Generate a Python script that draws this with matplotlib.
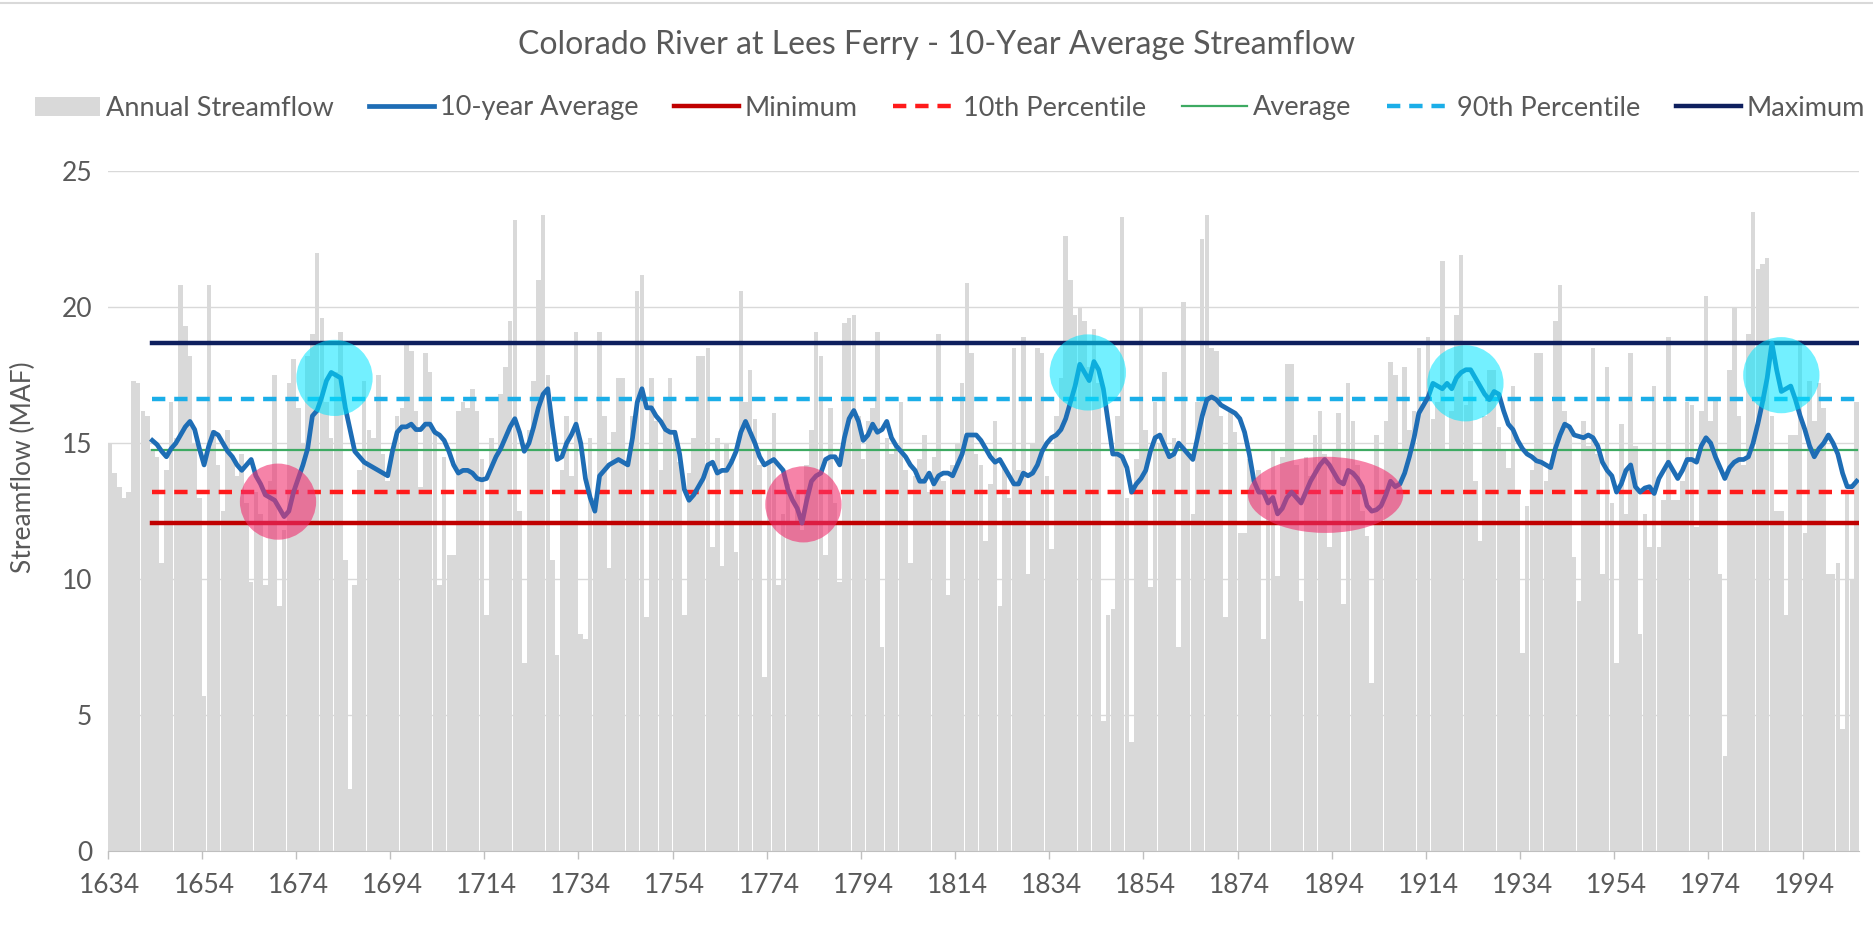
import matplotlib
matplotlib.use("Agg")
import matplotlib.pyplot as plt
from matplotlib.patches import Ellipse, Patch
from matplotlib.lines import Line2D

plt.rcParams['font.family'] = ['Lato', 'DejaVu Sans']

# Annual streamflow (MAF), one value per year starting 1634
first_year = 1634
annual = [
    15.0, 13.9, 13.4, 13.0, 13.2, 17.3, 17.2, 16.2, 16.0, 14.8,   # 1634
    14.5, 10.6, 14.0, 16.5, 15.2, 20.8, 19.3, 18.2, 15.0, 13.0,   # 1644
    5.7, 20.8, 15.5, 14.2, 12.5, 15.5, 14.5, 13.8, 14.6, 12.8,    # 1654
    9.9, 13.2, 12.4, 9.8, 13.6, 17.5, 9.0, 11.8, 17.2, 18.1,      # 1664
    16.3, 15.0, 18.2, 19.0, 22.0, 19.6, 16.5, 15.2, 17.6, 19.1,   # 1674
    10.7, 2.3, 9.8, 14.0, 17.3, 15.5, 15.2, 17.5, 14.6, 13.6,     # 1684
    14.8, 16.0, 16.3, 18.6, 18.4, 16.2, 13.4, 18.3, 17.6, 15.5,   # 1694
    9.8, 14.5, 10.9, 10.9, 16.2, 16.5, 16.3, 17.0, 16.2, 14.4,    # 1704
    8.7, 15.2, 14.8, 16.8, 17.8, 19.5, 23.2, 12.5, 6.9, 15.5,     # 1714
    17.3, 21.0, 23.4, 17.5, 10.7, 7.2, 14.0, 16.0, 13.8, 19.1,    # 1724
    8.0, 7.8, 15.2, 13.0, 19.1, 16.0, 10.4, 15.4, 17.4, 17.4,     # 1734
    14.2, 16.0, 20.6, 21.2, 8.6, 17.4, 15.8, 14.0, 16.6, 17.4,    # 1744
    15.5, 14.3, 8.7, 13.9, 15.2, 18.2, 18.2, 18.5, 11.2, 15.2,    # 1754
    10.5, 15.0, 14.4, 11.0, 20.6, 16.5, 17.7, 15.9, 14.2, 6.4,    # 1764
    14.8, 16.1, 9.8, 12.4, 13.5, 12.0, 13.2, 11.8, 14.2, 15.5,    # 1774
    19.1, 18.2, 10.9, 16.3, 12.8, 9.9, 19.4, 19.6, 19.7, 16.0,    # 1784
    14.4, 15.8, 16.3, 19.1, 7.5, 15.2, 14.6, 15.0, 16.5, 14.0,    # 1794
    10.6, 13.8, 14.4, 15.3, 13.2, 14.5, 19.0, 13.6, 9.4, 14.2,    # 1804
    15.0, 17.2, 20.9, 18.3, 14.6, 14.2, 11.4, 13.5, 15.8, 9.0,    # 1814
    14.1, 13.0, 18.5, 14.0, 18.9, 10.2, 15.0, 18.5, 18.3, 13.8,   # 1824
    11.1, 16.0, 17.4, 22.6, 21.0, 19.7, 20.0, 19.5, 17.8, 19.2,   # 1834
    17.2, 4.8, 8.7, 8.9, 16.0, 23.3, 13.0, 4.0, 14.4, 20.0,       # 1844
    15.5, 9.7, 16.5, 15.0, 17.6, 14.5, 15.2, 7.5, 20.2, 14.6,     # 1854
    12.4, 16.5, 22.5, 23.4, 18.5, 18.4, 16.0, 8.6, 16.2, 15.4,    # 1864
    11.7, 11.7, 14.4, 13.6, 14.0, 7.8, 13.2, 14.8, 10.1, 14.5,    # 1874
    17.9, 17.9, 14.2, 9.2, 14.5, 13.8, 15.3, 16.2, 14.6, 11.2,    # 1884
    14.8, 16.1, 9.1, 17.2, 15.8, 14.2, 12.5, 11.6, 6.2, 15.3,     # 1894
    13.2, 15.8, 18.0, 17.5, 14.8, 17.8, 15.5, 16.2, 18.5, 16.4,   # 1904
    18.9, 15.9, 16.5, 21.7, 14.8, 16.2, 19.7, 21.9, 16.4, 17.3,   # 1914
    13.6, 11.4, 16.0, 17.7, 17.7, 15.6, 14.8, 14.1, 17.1, 13.2,   # 1924
    7.3, 12.7, 14.0, 18.3, 18.3, 13.6, 14.2, 19.5, 20.8, 16.2,    # 1934
    15.6, 10.8, 9.2, 15.8, 14.9, 18.5, 14.6, 10.2, 17.8, 12.8,    # 1944
    6.9, 15.7, 12.4, 18.3, 14.9, 8.0, 12.4, 11.2, 17.1, 11.2,     # 1954
    12.9, 18.9, 12.9, 12.9, 13.6, 16.5, 16.4, 11.9, 16.2, 20.4,   # 1964
    15.8, 16.6, 10.2, 3.5, 17.7, 20.0, 16.0, 14.2, 19.0, 23.5,    # 1974
    21.4, 21.6, 21.8, 16.0, 12.5, 12.5, 8.7, 15.3, 15.3, 18.8,    # 1984
    11.7, 17.3, 15.8, 17.2, 16.3, 10.2, 10.2, 10.6, 4.5, 13.2,    # 1994
    10.0, 16.5,                                                   # 2004
]
years = list(range(first_year, first_year + len(annual)))

# 10-year trailing average, starting 1643
avg_start = 1643
avg10 = [
    15.1, 14.95, 14.7, 14.5, 14.8, 15.0, 15.3, 15.6, 15.8, 15.5,  # 1643
    14.8, 14.2, 14.9, 15.4, 15.3, 15.0, 14.7, 14.5, 14.2, 14.0,   # 1653
    14.2, 14.4, 13.8, 13.5, 13.1, 13.0, 12.9, 12.6, 12.3, 12.5,   # 1663
    13.2, 13.7, 14.2, 14.8, 16.0, 16.2, 16.7, 17.3, 17.6, 17.5,   # 1673
    17.4, 16.3, 15.5, 14.7, 14.5, 14.3, 14.2, 14.1, 14.0, 13.9,   # 1683
    13.8, 14.7, 15.4, 15.6, 15.6, 15.7, 15.5, 15.5, 15.7, 15.7,   # 1693
    15.4, 15.3, 15.1, 14.7, 14.2, 13.9, 14.0, 14.0, 13.9, 13.7,   # 1703
    13.65, 13.7, 14.1, 14.5, 14.8, 15.2, 15.6, 15.9, 15.4, 14.7,  # 1713
    15.0, 15.6, 16.3, 16.8, 17.0, 15.6, 14.4, 14.5, 15.0, 15.3,   # 1723
    15.7, 15.0, 13.7, 13.0, 12.5, 13.8, 14.0, 14.2, 14.3, 14.4,   # 1733
    14.3, 14.2, 15.2, 16.5, 17.0, 16.3, 16.3, 16.0, 15.8, 15.5,   # 1743
    15.4, 15.4, 14.6, 13.3, 12.9, 13.1, 13.4, 13.7, 14.2, 14.3,   # 1753
    13.9, 14.0, 14.0, 14.3, 14.7, 15.4, 15.8, 15.4, 15.0, 14.5,   # 1763
    14.2, 14.3, 14.4, 14.2, 14.0, 13.3, 12.9, 12.6, 12.06, 12.9,  # 1773
    13.6, 13.8, 13.9, 14.4, 14.5, 14.5, 14.2, 15.2, 15.9, 16.2,   # 1783
    15.8, 15.1, 15.3, 15.7, 15.4, 15.5, 15.8, 15.2, 14.9, 14.7,   # 1793
    14.5, 14.2, 14.0, 13.6, 13.6, 13.9, 13.5, 13.8, 13.9, 13.9,   # 1803
    13.8, 14.2, 14.6, 15.3, 15.3, 15.3, 15.1, 14.8, 14.5, 14.3,   # 1813
    14.4, 14.1, 13.8, 13.5, 13.5, 13.9, 13.8, 13.9, 14.2, 14.7,   # 1823
    15.0, 15.2, 15.3, 15.5, 15.9, 16.5, 17.1, 17.9, 17.6, 17.3,   # 1833
    18.0, 17.7, 17.0, 15.8, 14.6, 14.6, 14.5, 14.1, 13.2, 13.5,   # 1843
    13.7, 14.0, 14.7, 15.2, 15.3, 14.9, 14.5, 14.6, 15.0, 14.8,   # 1853
    14.6, 14.4, 15.2, 16.0, 16.6, 16.7, 16.6, 16.4, 16.3, 16.2,   # 1863
    16.1, 15.9, 15.4, 14.6, 13.6, 13.2, 13.2, 12.8, 13.0, 12.4,   # 1873
    12.6, 13.0, 13.2, 13.0, 12.8, 13.2, 13.6, 13.9, 14.2, 14.4,   # 1883
    14.2, 13.9, 13.6, 13.5, 14.0, 13.9, 13.7, 13.4, 12.7, 12.5,   # 1893
    12.55, 12.7, 13.1, 13.6, 13.4, 13.5, 13.9, 14.5, 15.2, 16.1,  # 1903
    16.4, 16.7, 17.2, 17.1, 17.0, 17.2, 17.0, 17.4, 17.6, 17.7,   # 1913
    17.7, 17.4, 17.1, 16.8, 16.6, 16.9, 16.8, 16.2, 15.7, 15.5,   # 1923
    15.1, 14.8, 14.6, 14.5, 14.35, 14.3, 14.2, 14.1, 14.8, 15.3,  # 1933
    15.7, 15.6, 15.3, 15.25, 15.2, 15.3, 15.2, 14.9, 14.3, 14.0,  # 1943
    13.8, 13.2, 13.5, 14.0, 14.2, 13.4, 13.2, 13.35, 13.4, 13.15, # 1953
    13.7, 14.0, 14.3, 14.0, 13.7, 14.0, 14.4, 14.4, 14.3, 14.9,   # 1963
    15.2, 15.0, 14.5, 14.1, 13.7, 14.1, 14.3, 14.4, 14.4, 14.5,   # 1973
    15.0, 15.7, 16.5, 17.4, 18.68, 17.7, 16.9, 17.0, 17.1, 16.6,  # 1983
    16.0, 15.5, 14.9, 14.5, 14.8, 15.0, 15.3, 15.0, 14.6, 13.9,   # 1993
    13.4, 13.4, 13.6,                                             # 2003
]
avg_years = list(range(avg_start, avg_start + len(avg10)))

# Reference levels of the 10-year average
stat_names = ['Minimum', '10th Percentile', 'Average', '90th Percentile', 'Maximum']
stat_values = [12.06, 13.22, 14.75, 16.62, 18.68]

# Highlighted periods: (center year, center value, width in years)
wet_marks = [(1681.7, 17.4, 16.2), (1841.7, 17.6, 16.2), (1921.9, 17.2, 16.2), (1989.0, 17.5, 16.2)]
dry_marks = [(1669.7, 12.85, 16.2), (1781.3, 12.75, 16.2), (1892.2, 13.1, 33.0)]

fig = plt.figure(figsize=(18.74, 9.51), dpi=100)
ax = fig.add_axes([0.0574, 0.105, 0.9346, 0.715])

gray_txt = '#595959'

ax.bar(years, annual, width=0.96, color='#d9d9d9', linewidth=0, zorder=1)

line_styles = {
    'Minimum': dict(color='#C00000', lw=3.2, ls='-'),
    '10th Percentile': dict(color='#FF1A1A', lw=3.2, ls=(0, (3, 2))),
    'Average': dict(color='#3DAA62', lw=1.6, ls='-'),
    '90th Percentile': dict(color='#1BAEE8', lw=3.2, ls=(0, (3, 2))),
    'Maximum': dict(color='#0E1F5E', lw=3.2, ls='-'),
}
for name, val in zip(stat_names, stat_values):
    st = line_styles[name]
    ax.plot([avg_years[0], avg_years[-1]], [val, val], color=st['color'],
            lw=st['lw'], ls=st['ls'], zorder=3)

ax.plot(avg_years, avg10, color='#1E6DB5', lw=3.4, zorder=4, solid_joinstyle='round')

for cx, cy, w in wet_marks:
    ax.add_patch(Ellipse((cx, cy), w, 2.8, facecolor='#00E5FF', alpha=0.55,
                         edgecolor='none', zorder=5))
for cx, cy, w in dry_marks:
    ax.add_patch(Ellipse((cx, cy), w, 2.8, facecolor='#F0306F', alpha=0.6,
                         edgecolor='none', zorder=5))

ax.set_xlim(first_year - 0.5, years[-1] + 0.5)
ax.set_ylim(0, 25)
ax.set_yticks([0, 5, 10, 15, 20, 25])
ax.yaxis.grid(True, color='#d9d9d9', lw=1.0, zorder=0)
ax.set_axisbelow(True)

label_years = list(range(1634, 2005, 20))
ax.set_xticks(label_years)
ax.set_xticklabels([str(y) for y in label_years])
ax.set_xticks([y - 0.5 for y in label_years], minor=True)
ax.tick_params(axis='x', which='major', length=0, pad=16, labelsize=19, labelcolor=gray_txt)
ax.tick_params(axis='x', which='minor', length=6, color='#bfbfbf', width=1)
ax.tick_params(axis='y', length=0, pad=11, labelsize=19, labelcolor=gray_txt)

for side in ['top', 'right', 'left']:
    ax.spines[side].set_visible(False)
ax.spines['bottom'].set_color('#bfbfbf')

ax.set_ylabel('Streamflow (MAF)', fontsize=19, color=gray_txt)
ax.yaxis.set_label_coords(-0.041, 0.564)

fig.text(0.5, 1 - 45 / 951, 'Colorado River at Lees Ferry - 10-Year Average Streamflow',
         ha='center', va='center', fontsize=23, color=gray_txt)

handles = [Patch(facecolor='#d9d9d9', edgecolor='none'),
           Line2D([], [], color='#1E6DB5', lw=3.4)]
labels = ['Annual Streamflow', '10-year Average']
for name in stat_names:
    st = line_styles[name]
    handles.append(Line2D([], [], color=st['color'], lw=st['lw'], ls=st['ls']))
    labels.append(name)

fig.legend(handles, labels, loc='center', bbox_to_anchor=(0.507, 1 - 108 / 951), ncol=7,
           frameon=False, fontsize=19.5, handlelength=2.4, handletextpad=0.2,
           columnspacing=1.32, labelcolor=gray_txt)

fig.add_artist(Line2D([0, 1], [0.997, 0.997], color='#d9d9d9', lw=1.5))

fig.savefig('out.png', dpi=100)
